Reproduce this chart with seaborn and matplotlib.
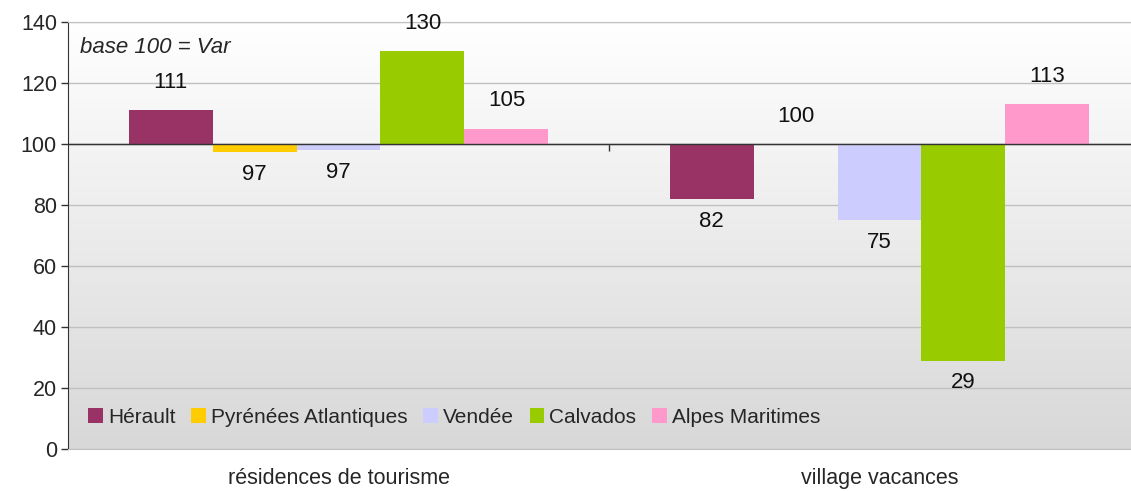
import numpy as np
import pandas as pd
import matplotlib
matplotlib.use("Agg")
import matplotlib.pyplot as plt
from matplotlib.colors import LinearSegmentedColormap
import seaborn as sns

categories = ["résidences de tourisme", "village vacances"]
departements = ["Hérault", "Pyrénées Atlantiques", "Vendée", "Calvados", "Alpes Maritimes"]
residences = [111, 97.4, 97.9, 130.5, 105]
villages = [82, 100, 75, 29, 113]
colors = ["#993366", "#FFCC00", "#CCCCFF", "#99CC00", "#FF99CC"]
base = 100
yticks = [0, 20, 40, 60, 80, 100, 120, 140]

df = pd.DataFrame({
    "type": np.repeat(categories, len(departements)),
    "dep": departements * len(categories),
    "indice": residences + villages,
})
df["ecart"] = df["indice"] - base

sns.set_style("white")
plt.rcParams["font.family"] = ["Liberation Sans", "DejaVu Sans"]

fig = plt.figure(figsize=(11.31, 4.91), dpi=100)
ax = fig.add_axes([68 / 1131, 1 - 449 / 491, 1082 / 1131, 427 / 491])

# background gradient white -> light gray
cmap = LinearSegmentedColormap.from_list("bg", ["#ffffff", "#d8d8d8"])
ax.imshow(np.linspace(0, 1, 256).reshape(-1, 1), cmap=cmap, aspect="auto",
          extent=[0, 1, 0, 1], transform=ax.transAxes, origin="upper", zorder=-2)

sns.barplot(data=df, x="type", y="ecart", hue="dep", hue_order=departements,
            palette=colors, saturation=1, width=0.776, errorbar=None,
            linewidth=0, ax=ax, zorder=2)

# bars start from the base value (100), labels at their end
for container in ax.containers:
    for patch in container:
        patch.set_y(base)
        h = patch.get_height()
        end = base + h
        xc = patch.get_x() + patch.get_width() / 2
        off = 20 if h >= 0 else -16
        ax.annotate(f"{int(end + 1e-9)}", (xc, end), xytext=(0, off),
                    textcoords="offset points", ha="center", va="center",
                    fontsize=16, color="#111111")

ax.set_xlim(-0.5, 1.5)
ax.set_ylim(0, 140)
ax.set_yticks(yticks)
ax.yaxis.grid(True, color="#c0c0c0", linewidth=1, zorder=-1)
ax.set_axisbelow(True)
ax.tick_params(axis="y", direction="out", length=5, width=1, color="#333333",
               left=True, labelsize=15.5, pad=3)
ax.tick_params(axis="x", length=0, labelsize=15.5, pad=14)
ax.set_xlabel("")
ax.set_ylabel("")

for s in ["top", "bottom", "right"]:
    ax.spines[s].set_color("#c0c0c0")
ax.spines["left"].set_color("#333333")

# horizontal axis at base 100 with separator tick
ax.axhline(base, color="#333333", linewidth=1, zorder=3)
sec = ax.secondary_xaxis(base / 140)
sec.set_xticks([0.5])
sec.xaxis.set_ticks_position("bottom")
sec.tick_params(axis="x", direction="out", length=5, width=1, color="#333333",
                labelbottom=False, labeltop=False)
for s in sec.spines.values():
    s.set_color("#333333")

ax.text(0.011, 0.94, "base 100 = Var", transform=ax.transAxes, style="italic",
        fontsize=16, ha="left", va="center")

leg = ax.legend(loc="lower left", bbox_to_anchor=(0.011, 0.033), ncol=5,
                frameon=False, fontsize=15, handlelength=0.7, handleheight=0.7,
                handletextpad=0.25, columnspacing=0.75, borderaxespad=0)

fig.savefig("out.png", dpi=100)
